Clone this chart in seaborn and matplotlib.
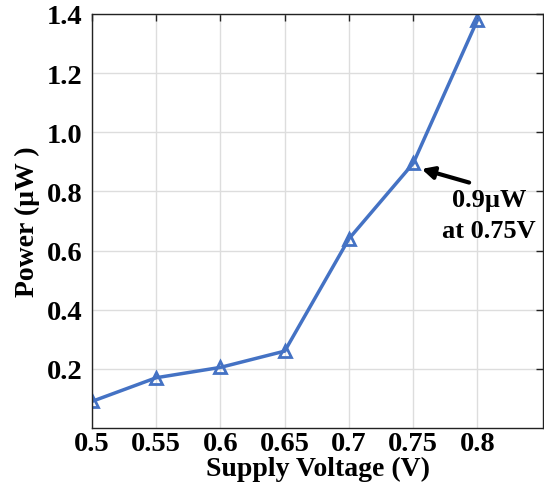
import matplotlib
matplotlib.use("Agg")
import matplotlib.pyplot as plt
import seaborn as sns
import pandas as pd

voltage = [0.5, 0.55, 0.6, 0.65, 0.7, 0.75, 0.8]
power = [0.09, 0.17, 0.205, 0.26, 0.64, 0.895, 1.38]
xticks = [0.5, 0.55, 0.6, 0.65, 0.7, 0.75, 0.8]
xtick_labels = ["0.5", "0.55", "0.6", "0.65", "0.7", "0.75", "0.8"]
yticks = [0.2, 0.4, 0.6, 0.8, 1.0, 1.2, 1.4]
ytick_labels = ["0.2", "0.4", "0.6", "0.8", "1.0", "1.2", "1.4"]

sns.set_theme(style="whitegrid")
plt.rcParams['font.family'] = ['Liberation Serif', 'DejaVu Serif']
plt.rcParams['font.weight'] = 'bold'
plt.rcParams['text.color'] = 'black'
plt.rcParams['axes.labelcolor'] = 'black'
plt.rcParams['xtick.color'] = 'black'
plt.rcParams['ytick.color'] = 'black'

df = pd.DataFrame({"V": voltage, "P": power})
color = "#4472C4"

fig = plt.figure(figsize=(5.44, 4.89), dpi=100)
ax = fig.add_axes([92/544, 1 - 429/489, (543-92)/544, (429-15)/489])
sns.lineplot(data=df, x="V", y="P", ax=ax, color=color, linewidth=2.5,
             marker="^", markersize=9, markerfacecolor="none",
             markeredgecolor=color, markeredgewidth=2)

ax.set_xlim(0.5, 0.851)
ax.set_ylim(0.0, 1.4)
ax.set_xticks(xticks)
ax.set_xticklabels(xtick_labels)
ax.set_yticks(yticks)
ax.set_yticklabels(ytick_labels)
ax.set_xlabel("Supply Voltage (V)", fontsize=20, fontweight="bold", labelpad=0)
ax.set_ylabel("Power (\u00b5W )", fontsize=20, fontweight="bold", labelpad=5)
ax.tick_params(axis="both", labelsize=20.5, direction="in", length=5, width=1,
               top=True, right=True, color="#222222")
ax.tick_params(axis="x", pad=2)
ax.tick_params(axis="y", pad=7)
for lbl in ax.get_xticklabels() + ax.get_yticklabels():
    lbl.set_fontweight("bold")
ax.grid(True, color="#dddddd", linewidth=1)
for s in ax.spines.values():
    s.set_color("#222222")
    s.set_linewidth(1)

ax.text(0.809, 0.72, "0.9\u00b5W\nat 0.75V", ha="center", va="center",
        fontsize=19, fontweight="bold", linespacing=1.4)
ax.annotate("", xy=(0.7565, 0.876), xytext=(0.7935, 0.83),
            arrowprops=dict(arrowstyle="-|>", color="black", lw=3,
                            mutation_scale=18, shrinkA=0, shrinkB=0))

fig.savefig("out.png", dpi=100)
